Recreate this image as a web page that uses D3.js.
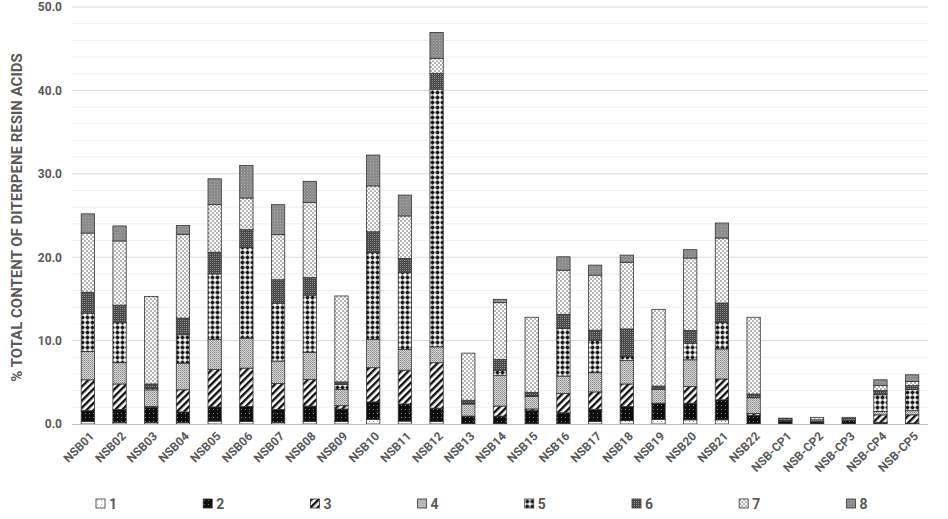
<!DOCTYPE html>
<html>
<head>
<meta charset="utf-8">
<script src="https://cdn.jsdelivr.net/npm/d3@7"></script>
<style>
  body { margin: 0; background: #fff; }
  text { font-family: 'Liberation Sans Narrow', 'Roboto', sans-serif; font-weight: bold; fill: #595959; }
</style>
</head>
<body>
<div id="chart"></div>
<script>
var categories = ['NSB01', 'NSB02', 'NSB03', 'NSB04', 'NSB05', 'NSB06', 'NSB07', 'NSB08', 'NSB09',
  'NSB10', 'NSB11', 'NSB12', 'NSB13', 'NSB14', 'NSB15', 'NSB16', 'NSB17', 'NSB18', 'NSB19',
  'NSB20', 'NSB21', 'NSB22', 'NSB-CP1', 'NSB-CP2', 'NSB-CP3', 'NSB-CP4', 'NSB-CP5'];

var seriesNames = ['1', '2', '3', '4', '5', '6', '7', '8'];

var s1 = [0.3, 0.2, 0.2, 0.2, 0.35, 0.3, 0.2, 0.3, 0.3, 0.55, 0.35, 0.3, 0.1, 0.1, 0.1, 0.1, 0.3, 0.4, 0.55, 0.5, 0.5, 0.05, 0.05, 0.05, 0.05, 0.1, 0.05];
var s2 = [1.3, 1.55, 1.8, 1.25, 1.7, 1.8, 1.55, 1.85, 1.5, 2.1, 2.05, 1.6, 0.85, 0.85, 1.5, 1.25, 1.45, 1.7, 1.9, 2.0, 2.4, 1.0, 0.3, 0.2, 0.4, 0.1, 0.05];
var s3 = [3.7, 3.05, 0.1, 2.65, 4.5, 4.6, 3.1, 3.2, 0.4, 4.1, 4.05, 5.45, 0, 1.2, 0.2, 2.3, 2.1, 2.7, 0.05, 2.0, 2.5, 0.2, 0.05, 0.05, 0.05, 0.9, 1.0];
var s4 = [3.4, 2.55, 2.0, 3.2, 3.6, 3.6, 2.7, 3.25, 1.95, 3.4, 2.5, 1.9, 1.45, 3.7, 1.5, 2.1, 2.3, 2.8, 1.65, 3.2, 3.6, 1.9, 0.1, 0.2, 0.15, 0.4, 0.5];
var s5 = [4.6, 4.8, 0.2, 3.4, 7.85, 10.9, 6.95, 6.85, 0.6, 10.4, 9.2, 30.9, 0.1, 0.6, 0.1, 5.7, 3.9, 0.5, 0.05, 2.0, 3.2, 0, 0, 0, 0, 2.0, 2.55];
var s6 = [2.5, 2.1, 0.5, 2.0, 2.6, 2.1, 2.8, 2.1, 0.3, 2.5, 1.7, 1.9, 0.35, 1.3, 0.4, 1.7, 1.2, 3.3, 0.35, 1.5, 2.3, 0.45, 0, 0, 0, 0.5, 0.45];
var s7 = [7.1, 7.7, 10.5, 10.05, 5.7, 3.8, 5.4, 9.0, 10.3, 5.5, 5.1, 1.8, 5.65, 6.8, 9.0, 5.3, 6.6, 8.0, 9.2, 8.7, 7.8, 9.2, 0.15, 0.3, 0.15, 0.6, 0.5];
var s8 = [2.3, 1.8, 0, 1.05, 3.1, 3.9, 3.6, 2.55, 0, 3.7, 2.5, 3.1, 0, 0.4, 0, 1.6, 1.2, 0.85, 0, 1.0, 1.8, 0, 0.05, 0, 0, 0.7, 0.8];

var yTicks = [0, 10, 20, 30, 40, 50];

(function() {
  var width = 948, height = 519;
  var left = 72, right = 928, top = 7, bottom = 424;

  var svg = d3.select('#chart')
            .append('svg')
            .attr('width', width)
            .attr('height', height);

  var defs = svg.append('defs');

  // fill patterns, one per series
  function pattern(id, w, h, bg, shapes, transform) {
    var p = defs.append('pattern')
      .attr('id', id)
      .attr('patternUnits', 'userSpaceOnUse')
      .attr('width', w)
      .attr('height', h);
    if (transform) p.attr('patternTransform', transform);
    p.append('rect').attr('width', w).attr('height', h).attr('fill', bg);
    shapes.forEach(function(s) {
      p.append('rect')
        .attr('x', s[0]).attr('y', s[1])
        .attr('width', s[2]).attr('height', s[3])
        .attr('fill', s[4]);
    });
  }

  pattern('p1', 4, 4, '#ffffff', [[1, 1, 1, 1, '#b0b0b0']]);
  pattern('p2', 4, 4, '#0d0d0d', [[1, 1, 1, 1, '#7a7a7a']]);
  pattern('p3', 5, 5, '#ffffff', [[0, 0, 2.4, 5, '#111']], 'rotate(45)');
  pattern('p4', 2, 2, '#d4d4d4', [[0, 0, 1, 1, '#8c8c8c'], [1, 1, 1, 1, '#a8a8a8']]);
  pattern('p5', 5, 5, '#ffffff', [[1.5, 0.5, 2, 4, '#111'], [0.5, 1.5, 4, 2, '#111']]);
  pattern('p6', 2, 2, '#4a4a4a', [[0, 0, 1, 1, '#8a8a8a']]);
  pattern('p7', 4, 4, '#ffffff', [[0, 0, 2, 2, '#b5b5b5'], [2, 2, 2, 2, '#b5b5b5']]);
  pattern('p8', 3, 3, '#8c8c8c', [[1, 1, 1, 1, '#a6a6a6']]);

  var x = d3.scaleBand()
    .domain(categories)
    .range([left, right])
    .paddingInner(0.58)
    .paddingOuter(0.29);

  var y = d3.scaleLinear()
    .domain([0, 50])
    .range([bottom, top]);

  // gridlines
  svg.append('g')
    .selectAll('line')
    .data(d3.range(2, 50, 2).filter(function(d) { return d % 10 !== 0; }))
    .enter().append('line')
    .attr('x1', left).attr('x2', right)
    .attr('y1', function(d) { return y(d); })
    .attr('y2', function(d) { return y(d); })
    .attr('stroke', '#efefef');

  svg.append('g')
    .selectAll('line')
    .data(yTicks.slice(1))
    .enter().append('line')
    .attr('x1', left).attr('x2', right)
    .attr('y1', function(d) { return y(d); })
    .attr('y2', function(d) { return y(d); })
    .attr('stroke', '#dadada');

  // y axis labels
  var yAxis = svg.append('g')
    .attr('transform', 'translate(' + left + ',0)')
    .call(d3.axisLeft(y).tickValues(yTicks).tickFormat(d3.format('.1f')).tickSize(0).tickPadding(10));
  yAxis.select('.domain').remove();
  yAxis.selectAll('text')
    .attr('font-size', 12)
    .style('font-family', "'Liberation Sans Narrow', 'Roboto', sans-serif")
    .style('font-weight', 'bold')
    .attr('fill', '#595959');

  svg.append('text')
    .attr('transform', 'translate(22,' + ((top + bottom) / 2 + 2) + ') rotate(-90)')
    .attr('text-anchor', 'middle')
    .attr('font-size', 15)
    .text('% TOTAL CONTENT OF DITERPENE RESIN ACIDS');

  // stacked bars
  var rows = categories.map(function(c, i) {
    return { cat: c, '1': s1[i], '2': s2[i], '3': s3[i], '4': s4[i],
             '5': s5[i], '6': s6[i], '7': s7[i], '8': s8[i] };
  });

  var stacked = d3.stack().keys(seriesNames)(rows);

  svg.append('g')
    .selectAll('g')
    .data(stacked)
    .enter().append('g')
    .attr('fill', function(d, i) { return 'url(#p' + (i + 1) + ')'; })
    .selectAll('rect')
    .data(function(d) { return d.filter(function(v) { return v[1] - v[0] > 0; }); })
    .enter().append('rect')
    .attr('x', function(d) { return x(d.data.cat); })
    .attr('y', function(d) { return y(d[1]); })
    .attr('width', x.bandwidth())
    .attr('height', function(d) { return y(d[0]) - y(d[1]); })
    .attr('stroke', '#333')
    .attr('stroke-width', 0.8);

  // x axis
  svg.append('line')
    .attr('x1', left).attr('x2', right)
    .attr('y1', bottom + 0.5).attr('y2', bottom + 0.5)
    .attr('stroke', '#bfbfbf');

  svg.append('g')
    .selectAll('text')
    .data(categories)
    .enter().append('text')
    .attr('transform', function(d) {
      return 'translate(' + (x(d) + x.bandwidth() / 2 + 4) + ',' + (bottom + 10) + ') rotate(-45)';
    })
    .attr('text-anchor', 'end')
    .attr('dy', '0.35em')
    .attr('font-size', 12)
    .text(function(d) { return d; });

  // legend
  var legend = svg.append('g')
    .selectAll('g')
    .data(seriesNames)
    .enter().append('g')
    .attr('transform', function(d, i) { return 'translate(' + (96 + i * 107.2) + ',499)'; });

  legend.append('rect')
    .attr('width', 9)
    .attr('height', 9)
    .attr('fill', function(d, i) { return 'url(#p' + (i + 1) + ')'; })
    .attr('stroke', '#333')
    .attr('stroke-width', 0.8);

  legend.append('text')
    .attr('x', 13)
    .attr('y', 4.5)
    .attr('dy', '0.38em')
    .attr('font-size', 14)
    .text(function(d) { return d; });
}());
</script>
</body>
</html>
